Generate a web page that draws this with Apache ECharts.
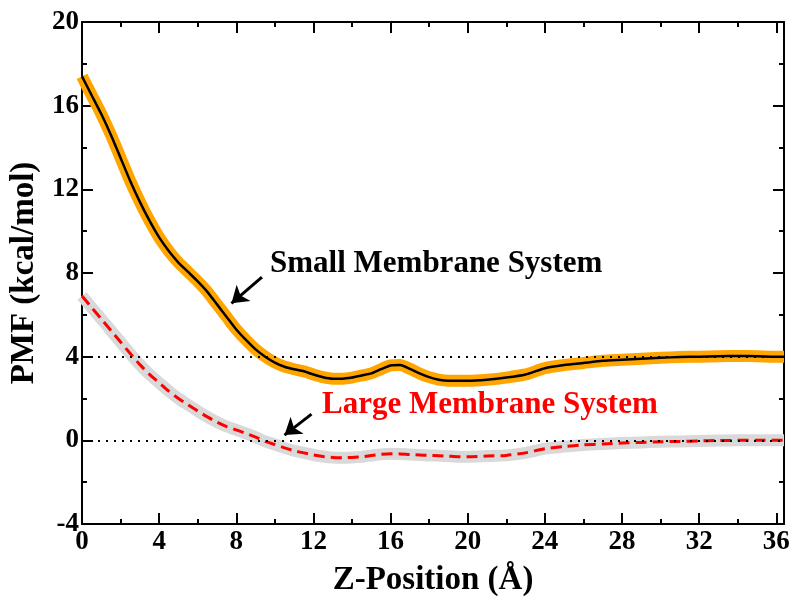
<!DOCTYPE html>
<html><head><meta charset="utf-8">
<script src="https://cdn.jsdelivr.net/npm/echarts@6/dist/echarts.min.js"></script>
<style>html,body{margin:0;padding:0;background:#fff}#c{width:800px;height:608px}</style>
</head><body><div id="c"></div>
<script>
const zSmall = [0,0.5,1,1.5,2,2.5,3,3.5,4,4.5,5,5.5,6,6.5,7,7.5,8,8.5,9,9.5,10,10.5,11,11.5,12,12.5,13,13.5,14,14.5,15,15.5,16,16.5,17,17.5,18,18.5,19,19.5,20,21,22,23,24,25,26,27,28,29,30,31,32,33,34,35,36,36.4];
const pmfSmall = [17.4,16.5,15.6,14.6,13.5,12.4,11.4,10.5,9.7,9.05,8.5,8.05,7.6,7.1,6.5,5.9,5.3,4.8,4.35,4.0,3.72,3.52,3.4,3.3,3.15,3.02,2.95,2.95,3.0,3.1,3.2,3.4,3.58,3.6,3.42,3.2,3.02,2.9,2.85,2.85,2.85,2.9,3.0,3.15,3.45,3.6,3.7,3.8,3.85,3.9,3.95,3.98,4.0,4.02,4.03,4.02,4.0,4.0];
const zLarge = [0,0.5,1,1.5,2,2.5,3,3.5,4,4.5,5,5.5,6,6.5,7,7.5,8,8.5,9,9.5,10,10.5,11,11.5,12,12.5,13,13.5,14,14.5,15,15.5,16,16.5,17,17.5,18,18.5,19,19.5,20,21,22,23,24,25,26,27,28,29,30,31,32,33,34,35,36,36.4];
const pmfLarge = [6.9,6.35,5.8,5.25,4.7,4.15,3.62,3.15,2.75,2.35,2.0,1.7,1.4,1.12,0.87,0.66,0.5,0.33,0.15,-0.05,-0.2,-0.36,-0.5,-0.6,-0.7,-0.77,-0.82,-0.83,-0.82,-0.79,-0.73,-0.67,-0.64,-0.65,-0.68,-0.7,-0.72,-0.74,-0.76,-0.78,-0.78,-0.75,-0.72,-0.6,-0.4,-0.3,-0.22,-0.17,-0.13,-0.1,-0.07,-0.05,-0.03,-0.01,0.0,0.0,0.0,0.0];
const refLevels = [4, 0];
const labelSmall = 'Small Membrane System';
const labelLarge = 'Large Membrane System';

const FONT = '"Liberation Serif", "Times New Roman", serif';
const pairs = (xs, ys) => xs.map((x, i) => [x, ys[i]]);
const chart = echarts.init(document.getElementById('c'), null, {renderer: 'canvas'});

const axisCommon = {
  axisLine: {show: true, onZero: false, lineStyle: {color: '#000', width: 2}},
  axisTick: {show: true, inside: true, length: 11, lineStyle: {color: '#000', width: 2}},
  minorTick: {show: true, splitNumber: 2, length: 5, lineStyle: {color: '#000', width: 2}},
  splitLine: {show: false}
};

chart.setOption({
  animation: false,
  grid: {left: 82, right: 16, top: 22, bottom: 84, containLabel: false, outerBoundsMode: 'none'},
  xAxis: [
    Object.assign({type: 'value', min: 0, max: 36.4, interval: 4, position: 'bottom',
      name: 'Z-Position (Å)', nameLocation: 'middle', nameGap: 40,
      nameTextStyle: {fontFamily: FONT, fontWeight: 'bold', fontSize: 33, color: '#000'},
      axisLabel: {fontFamily: FONT, fontWeight: 'bold', fontSize: 27, color: '#000', margin: 5,
        formatter: v => (Math.abs(v % 4) < 1e-9 ? String(v) : '')}}, axisCommon),
    Object.assign({type: 'value', min: 0, max: 36.4, interval: 4, position: 'top',
      axisLabel: {show: false}}, axisCommon)
  ],
  yAxis: [
    Object.assign({type: 'value', min: -4, max: 20, interval: 4, position: 'left',
      name: 'PMF (kcal/mol)', nameLocation: 'middle', nameGap: 39, nameRotate: 90,
      nameTextStyle: {fontFamily: FONT, fontWeight: 'bold', fontSize: 33, color: '#000'},
      axisLabel: {fontFamily: FONT, fontWeight: 'bold', fontSize: 27, color: '#000', margin: 3}}, axisCommon),
    Object.assign({type: 'value', min: -4, max: 20, interval: 4, position: 'right',
      axisLabel: {show: false}}, axisCommon)
  ],
  series: [
    {type: 'line', data: pairs(zLarge, pmfLarge), showSymbol: false, smooth: 0.2,
      lineStyle: {color: '#d9d9d9', width: 12, cap: 'butt', join: 'round'}, z: 2,
      markLine: {silent: true, symbol: 'none', label: {show: false},
        lineStyle: {color: '#000', type: [2, 6], width: 2},
        data: refLevels.map(v => ({yAxis: v}))}},
    {type: 'line', data: pairs(zLarge, pmfLarge), showSymbol: false, smooth: 0.2,
      lineStyle: {color: '#ff0000', width: 3, type: [11, 6]}, z: 3},
    {type: 'line', data: pairs(zSmall, pmfSmall), showSymbol: false, smooth: 0.2,
      lineStyle: {color: '#ffa500', width: 12, cap: 'butt', join: 'round'}, z: 4},
    {type: 'line', data: pairs(zSmall, pmfSmall), showSymbol: false, smooth: 0.2,
      lineStyle: {color: '#000', width: 2.5}, z: 5,
      markLine: {silent: true, symbol: ['none', 'arrow'], symbolSize: [16, 16], label: {show: false},
        lineStyle: {color: '#000', type: 'solid', width: 3},
        data: [
          [{coord: [9.33, 7.8]}, {coord: [7.75, 6.55]}],
          [{coord: [11.9, 1.25]}, {coord: [10.5, 0.25]}]
        ]}}
  ],
  graphic: [
    {type: 'text', left: 270, top: 248, style: {text: labelSmall, fontFamily: FONT, fontWeight: 'bold', fontSize: 31, fill: '#000'}},
    {type: 'text', left: 322, top: 389, style: {text: labelLarge, fontFamily: FONT, fontWeight: 'bold', fontSize: 31, fill: '#ff0000'}}
  ]
});
</script></body></html>
